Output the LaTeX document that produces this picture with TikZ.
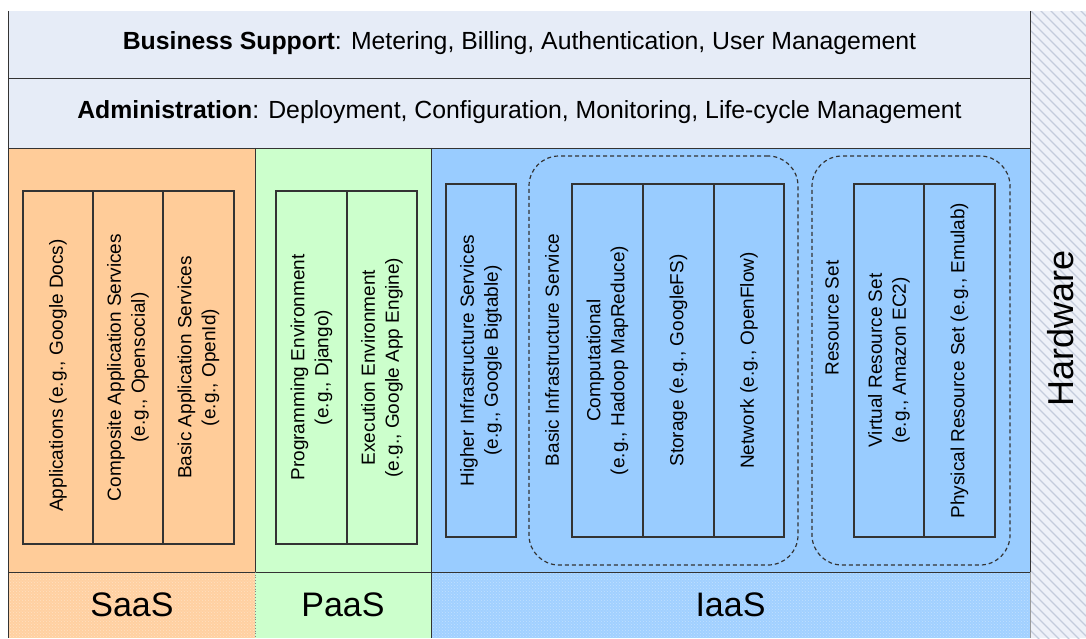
\documentclass[tikz,border=0pt]{standalone}
\usepackage{fontspec}
\setmainfont{Liberation Sans}
\usetikzlibrary{patterns}
\definecolor{barbg}{HTML}{E6ECF7}
\definecolor{saascol}{HTML}{FFCC99}
\definecolor{paascol}{HTML}{CCFFCC}
\definecolor{iaascol}{HTML}{99CCFF}
\definecolor{hwbg}{HTML}{EEF1F8}
\definecolor{hwline}{HTML}{C4CCDC}
\definecolor{edge}{HTML}{333333}
\begin{document}
\begin{tikzpicture}[x=1pt,y=-1pt,
  edgeline/.style={draw=edge, line width=1.2pt},
  areabox/.style={rectangle, inner sep=0pt},
  compbox/.style={draw=edge, line width=1.2pt, rectangle, inner sep=0pt, minimum height=353pt},
  vlabel/.style={rotate=90, align=center, font=\fontsize{19}{24}\selectfont, inner sep=0pt},
  groupbox/.style={draw=edge, dash pattern=on 4pt off 3pt, line width=1.2pt, rounded corners=30pt, rectangle, inner sep=0pt, minimum height=409pt},
  barlabel/.style={font=\fontsize{24.8}{28}\selectfont},
  layerlabel/.style={font=\fontsize{34}{38}\selectfont},
  dots/.style={pattern=crosshatch dots, pattern color=white, opacity=0.35}
]
\useasboundingbox (0,0) rectangle (1086,638);
\fill[white] (0,0) rectangle (1086,638);
% hardware column
\node[areabox, fill=hwbg, minimum width=56pt, minimum height=627pt] (hw) at (1058,324.5) {};
\begin{scope}
\clip (1030,11) rectangle (1086,638);
\foreach \k in {-70,...,8} { \draw[hwline, line width=1.3pt] (1030+\k*10,0) -- ++(700,700); }
\end{scope}
\node[rotate=90, font=\fontsize{36}{40}\selectfont] (hwl) at (1061,328) {Hardware};
% bars
\node[areabox, fill=barbg, minimum width=1021pt, minimum height=67pt] (bs) at (519.5,44.5) {};
\node[barlabel] (bst) at (519.5,43) {\textbf{Business Support}: Metering, Billing, Authentication, User Management};
\node[areabox, fill=barbg, minimum width=1021pt, minimum height=70pt] (ad) at (519.5,113) {};
\node[barlabel] (adt) at (519.5,112) {\textbf{Administration}: Deployment, Configuration, Monitoring, Life-cycle Management};
% main areas
\node[areabox, fill=saascol, minimum width=246pt, minimum height=424pt] (saas) at (132,360) {};
\node[areabox, fill=paascol, minimum width=176pt, minimum height=424pt] (paas) at (343,360) {};
\node[areabox, fill=iaascol, minimum width=599pt, minimum height=424pt] (iaas) at (730.5,360) {};
% bottom bands
\node[areabox, fill=saascol!92!white, minimum width=246pt, minimum height=66pt] (saasl) at (132,605) {};
\node[areabox, fill=paascol, minimum width=176pt, minimum height=66pt] (paasl) at (343,605) {};
\node[areabox, fill=iaascol!92!white, minimum width=599pt, minimum height=66pt] (iaasl) at (730.5,605) {};
\fill[dots] (saasl.north west) rectangle (saasl.south east);
\fill[dots] (iaasl.north west) rectangle (iaasl.south east);
\node[layerlabel] at (saasl) {SaaS};
\node[layerlabel] at (paasl) {PaaS};
\node[layerlabel] at (iaasl) {IaaS};
% frame lines
\draw[edgeline] (bs.north west) -- (saasl.south west);
\draw[edgeline] (bs.north east) -- (iaas.south east);
\draw[edge!50, line width=1pt] (iaas.south east) -- (iaasl.south east);
\draw[edgeline] (bs.south west) -- (bs.south east);
\draw[edgeline] (ad.south west) -- (ad.south east);
\draw[edgeline] (saas.south west) -- (iaas.south east);
\draw[edgeline] (saas.north east) -- (saas.south east);
\draw[edge!60, line width=0.8pt, dotted] (saasl.north east) -- (saasl.south east);
\draw[edgeline] (paas.north east) -- (paasl.south east);
% SaaS components
\node[compbox, minimum width=70pt] (app) at (58,367.5) {};
\node[vlabel] at ([yshift=-8pt]app.center) {Applications (e.g., Google Docs)};
\node[compbox, minimum width=70pt] (cas) at (128,367.5) {};
\node[vlabel] at (cas) {Composite Application Services\\(e.g., Opensocial)};
\node[compbox, minimum width=71pt] (bas) at (198.5,367.5) {};
\node[vlabel] at (bas) {Basic Application Services\\(e.g., OpenId)};
% PaaS components
\node[compbox, minimum width=71pt] (pe) at (311.5,367.5) {};
\node[vlabel] at (pe) {Programming Environment\\(e.g., Django)};
\node[compbox, minimum width=70pt] (ee) at (382,367.5) {};
\node[vlabel] at (ee) {Execution Environment\\(e.g., Google App Engine)};
% IaaS components
\node[compbox, minimum width=70pt] (his) at (481,360.5) {};
\node[vlabel] at (his) {Higher Infrastructure Services\\(e.g., Google Bigtable)};
\node[groupbox, minimum width=269pt] (bis) at (663.5,360.5) {};
\node[vlabel] at (552,350) {Basic Infrastructure Service};
\node[compbox, minimum width=71pt] (comp) at (607.5,360.5) {};
\node[vlabel] at (comp) {Computational\\(e.g., Hadoop MapReduce)};
\node[compbox, minimum width=71pt] (stor) at (678.5,360.5) {};
\node[vlabel] at (stor) {Storage (e.g., GoogleFS)};
\node[compbox, minimum width=70pt] (net) at (749,360.5) {};
\node[vlabel] at (net) {Network (e.g., OpenFlow)};
\node[groupbox, minimum width=198pt] (rs) at (911,360.5) {};
\node[vlabel] at (832,318) {Resource Set};
\node[compbox, minimum width=70pt] (vrs) at (889,360.5) {};
\node[vlabel] at (vrs) {Virtual Resource Set\\(e.g., Amazon EC2)};
\node[compbox, minimum width=71pt] (prs) at (959.5,360.5) {};
\node[vlabel] at (prs) {Physical Resource Set (e.g., Emulab)};
\end{tikzpicture}
\end{document}
